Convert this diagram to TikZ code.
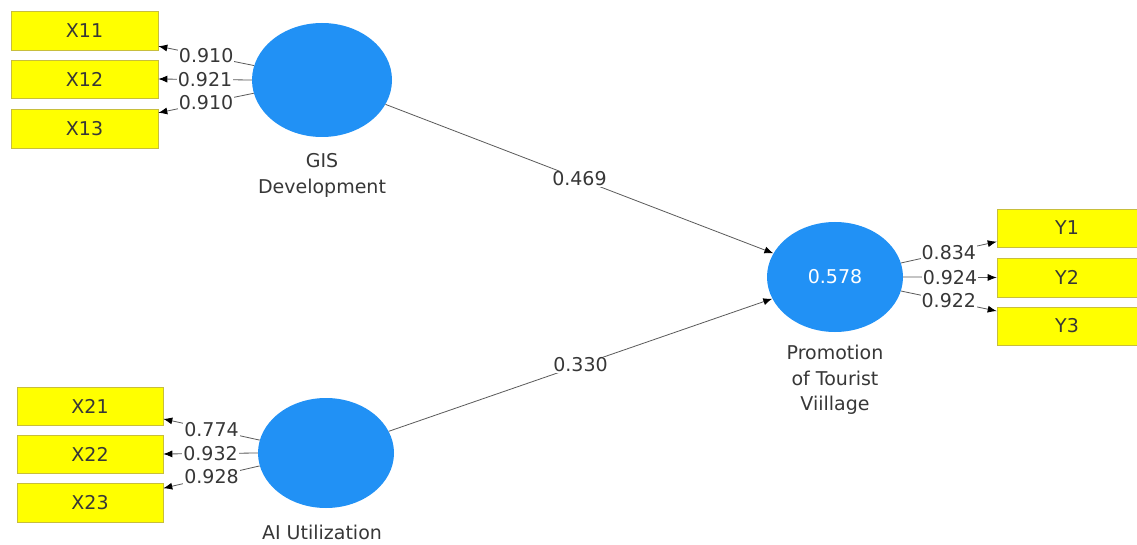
\documentclass[tikz,border=0pt]{standalone}
\usepackage{fontspec}
\setmainfont{DejaVu Sans}
\usetikzlibrary{arrows.meta,shapes.geometric}
\definecolor{lvblue}{RGB}{33,145,245}
\definecolor{indyellow}{RGB}{255,255,0}
\definecolor{indborder}{RGB}{200,190,60}
\definecolor{txtgray}{RGB}{55,55,55}
\definecolor{linegray}{RGB}{90,90,90}
\tikzset{
  latent/.style={ellipse, fill=lvblue, draw=none, inner sep=0pt},
  indbox/.style={rectangle, fill=indyellow, draw=indborder, line width=0.6pt, inner sep=0pt, text=txtgray, font=\fontsize{19}{22}\selectfont},
  lvlabel/.style={align=center, text=txtgray, font=\fontsize{19}{25.5}\selectfont},
  conn/.style={draw=linegray, line width=0.8pt, -{Latex[length=9pt,width=7pt,black]}},
  coef/.style={fill=white, inner sep=1pt, text=txtgray, font=\fontsize{19}{22}\selectfont},
}
\begin{document}
\begin{tikzpicture}[x=1pt,y=-1pt]
\useasboundingbox[fill=white] (0,0) rectangle (1137,545);
% latent variables
\node[latent, minimum width=140pt, minimum height=114pt] (gis) at (322,80) {};
\node[latent, minimum width=136pt, minimum height=110pt] (ai) at (326,453) {};
\node[latent, minimum width=136pt, minimum height=110pt, text=white, font=\fontsize{19}{22}\selectfont] (prom) at (835,277) {0.578};
% latent labels
\node[lvlabel, anchor=north] (gislab) at (322,150) {GIS\\Development};
\node[lvlabel, anchor=north] (ailab) at (322,522) {AI Utilization};
\node[lvlabel, anchor=north] (promlab) at (835,342) {Promotion\\of Tourist\\Viillage};
% indicators
\node[indbox, minimum width=147pt, minimum height=39pt] (x11) at (84.5,30.5) {X11};
\node[indbox, minimum width=147pt, minimum height=38pt] (x12) at (84.5,79) {X12};
\node[indbox, minimum width=147pt, minimum height=39pt] (x13) at (84.5,128.5) {X13};
\node[indbox, minimum width=146pt, minimum height=38pt] (x21) at (90,406) {X21};
\node[indbox, minimum width=146pt, minimum height=38pt] (x22) at (90,454) {X22};
\node[indbox, minimum width=146pt, minimum height=39pt] (x23) at (90,502.5) {X23};
\node[indbox, minimum width=140pt, minimum height=38pt] (y1) at (1067,228) {Y1};
\node[indbox, minimum width=140pt, minimum height=39pt] (y2) at (1067,277.5) {Y2};
\node[indbox, minimum width=140pt, minimum height=38pt] (y3) at (1067,326) {Y3};
% outer loadings
\draw[conn] (gis.168.5) -- node[coef] {0.910} (x11.-12.6);
\draw[conn] (gis.180) -- node[coef] {0.921} (x12.east);
\draw[conn] (gis.191.5) -- node[coef] {0.910} (x13.12.3);
\draw[conn] (ai.169) -- node[coef] {0.774} (x21.-10.9);
\draw[conn] (ai.180) -- node[coef] {0.932} (x22.east);
\draw[conn] (ai.191) -- node[coef] {0.928} (x23.11.2);
\draw[conn] (prom.12) -- node[coef] {0.834} (y1.191.3);
\draw[conn] (prom.0) -- node[coef] {0.924} (y2.west);
\draw[conn] (prom.-12) -- node[coef] {0.922} (y3.168.7);
% structural paths
\draw[conn] (gis) -- node[coef, pos=0.5] {0.469} (prom);
\draw[conn] (ai) -- node[coef, pos=0.5] {0.330} (prom);
\end{tikzpicture}
\end{document}
